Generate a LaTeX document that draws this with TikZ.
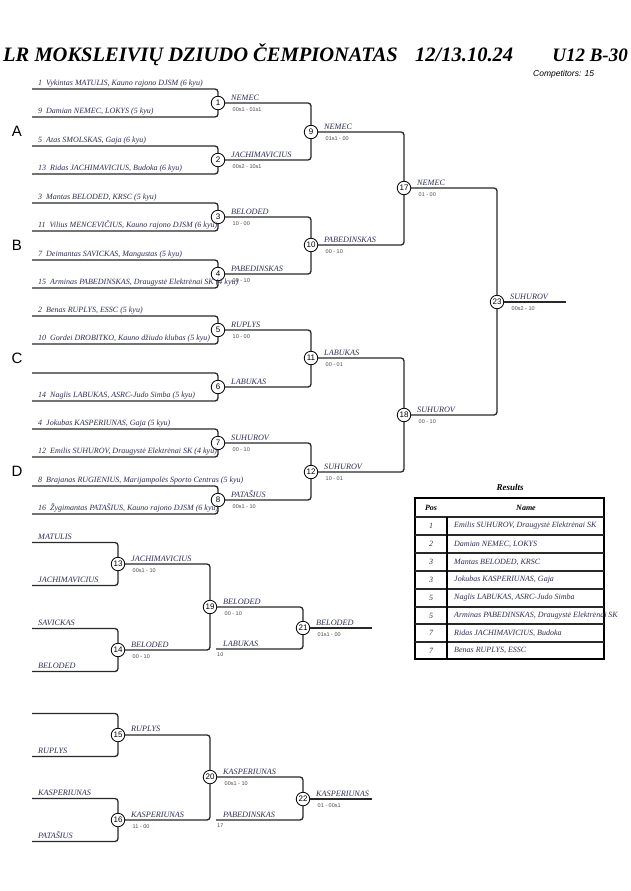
\documentclass[tikz,border=0pt]{standalone}
\usepackage{fontspec}
\setmainfont{Liberation Serif}
\newfontfamily\arl{Liberation Sans}
\definecolor{ink}{RGB}{45,45,85}
\definecolor{lncol}{RGB}{40,40,40}
\definecolor{scol}{RGB}{85,70,80}
\begin{document}
\begin{tikzpicture}[x=1pt,y=-1pt,
  ln/.style={draw=lncol,line width=1.3pt,rounded corners=3pt},
  mc/.style={circle,draw=black,fill=white,line width=0.8pt,minimum size=13.5pt,inner sep=0pt,font=\arl\fontsize{8}{8}\selectfont},
  cname/.style={anchor=base west,inner sep=0pt,text=ink,font=\itshape\fontsize{8}{8}\selectfont},
  wname/.style={anchor=base west,inner sep=0pt,text=ink,font=\itshape\fontsize{8.2}{9}\selectfont},
  score/.style={anchor=base west,inner sep=0pt,text=scol,font=\arl\fontsize{5.5}{6}\selectfont},
  pool/.style={inner sep=0pt,font=\arl\fontsize{15}{15}\selectfont},
  ttl/.style={anchor=base west,inner sep=0pt,font=\bfseries\itshape\fontsize{20.5}{22}\selectfont},
  tcell/.style={inner sep=0pt,text=ink,font=\itshape\fontsize{8}{8}\selectfont},
  thead/.style={inner sep=0pt,font=\bfseries\itshape\fontsize{8}{8}\selectfont}]
\useasboundingbox[fill=white] (0,0) rectangle (630,891);

% title
\node[ttl] (title1) at (3,62) {LR MOKSLEIVIŲ DZIUDO ČEMPIONATAS};
\node[ttl] (title2) at (415,62) {12/13.10.24};
\node[ttl,anchor=base east,font=\bfseries\itshape\fontsize{19}{22}\selectfont] (title3) at (628,62) {U12 B-30};
\node[anchor=base west,inner sep=0pt,font=\arl\itshape\fontsize{8.5}{9}\selectfont] (comp) at (533,76) {Competitors: 15};

% pools
\node[pool] (pA) at (17,131) {A};
\node[pool] (pB) at (17,245) {B};
\node[pool] (pC) at (17,358) {C};
\node[pool] (pD) at (17,471) {D};

% first round
\foreach \id/\y/\ta/\tb in {
 1/103/{1~~Vykintas MATULIS, Kauno rajono DJSM (6 kyu)}/{9~~Damian NEMEC, LOKYS (5 kyu)},
 2/160/{5~~Atas SMOLSKAS, Gaja (6 kyu)}/{13~~Ridas JACHIMAVICIUS, Budoka (6 kyu)},
 3/217/{3~~Mantas BELODED, KRSC (5 kyu)}/{11~~Vilius MENCEVIČIUS, Kauno rajono DJSM (6 kyu)},
 4/274/{7~~Deimantas SAVICKAS, Mangustas (5 kyu)}/{15~~Arminas PABEDINSKAS, Draugystė Elektrėnai SK (4 kyu)},
 5/330/{2~~Benas RUPLYS, ESSC (5 kyu)}/{10~~Gordei DROBITKO, Kauno džiudo klubas (5 kyu)},
 6/387/{}/{14~~Naglis LABUKAS, ASRC-Judo Simba (5 kyu)},
 7/443/{4~~Jokubas KASPERIUNAS, Gaja (5 kyu)}/{12~~Emilis SUHUROV, Draugystė Elektrėnai SK (4 kyu)},
 8/500/{8~~Brajanas RUGIENIUS, Marijampolės Sporto Centras (5 kyu)}/{16~~Žygimantas PATAŠIUS, Kauno rajono DJSM (6 kyu)}}{
  \node[mc] (m\id) at (218,\y) {\id};
  \coordinate (s\id a) at (32,\y-14);
  \coordinate (s\id b) at (32,\y+14);
  \draw[ln] (s\id a) -| (m\id);
  \draw[ln] (s\id b) -| (m\id);
  \node[cname] (t\id a) at (38,\y-17.5) {\ta};
  \node[cname] (t\id b) at (38,\y+10.5) {\tb};
}

% repechage first round
\foreach \id/\y/\ta/\tb in {
 13/564/{MATULIS}/{JACHIMAVICIUS},
 14/650/{SAVICKAS}/{BELODED},
 15/735/{}/{RUPLYS},
 16/820/{KASPERIUNAS}/{PATAŠIUS}}{
  \node[mc] (m\id) at (118,\y) {\id};
  \coordinate (s\id a) at (32,\y-21.5);
  \coordinate (s\id b) at (32,\y+21.5);
  \draw[ln] (s\id a) -| (m\id);
  \draw[ln] (s\id b) -| (m\id);
  \node[wname] (t\id a) at (38,\y-24.5) {\ta};
  \node[wname] (t\id b) at (38,\y+18.5) {\tb};
}

% later rounds
\node[mc] (m9) at (311,132) {9};
\node[mc] (m10) at (311,245) {10};
\node[mc] (m11) at (311,358) {11};
\node[mc] (m12) at (311,472) {12};
\node[mc] (m17) at (404,188) {17};
\node[mc] (m18) at (404,415) {18};
\node[mc] (m23) at (497,302) {23};
\node[mc] (m19) at (210,607) {19};
\node[mc] (m20) at (210,777) {20};
\node[mc] (m21) at (303,628) {21};
\node[mc] (m22) at (303,799) {22};

\foreach \a/\b in {1/9,2/9,3/10,4/10,5/11,6/11,7/12,8/12,9/17,10/17,11/18,12/18,17/23,18/23,13/19,14/19,15/20,16/20,19/21,20/22}{
  \draw[ln] (m\a) -| (m\b);
}
\coordinate (lab) at (216,649);
\coordinate (pab) at (216,820);
\draw[ln] (lab) -| (m21);
\draw[ln] (pab) -| (m22);
\coordinate (o23) at (566,302);
\coordinate (o21) at (372,628);
\coordinate (o22) at (372,799);
\draw[ln] (m23) -- (o23);
\draw[ln] (m21) -- (o21);
\draw[ln] (m22) -- (o22);

% winner labels
\foreach \id/\x/\y/\nm/\sc in {
 1/218/103/NEMEC/{00s1 - 01s1},
 2/218/160/JACHIMAVICIUS/{00s2 - 10s1},
 3/218/217/BELODED/{10 - 00},
 4/218/274/PABEDINSKAS/{00 - 10},
 5/218/330/RUPLYS/{10 - 00},
 6/218/387/LABUKAS/{},
 7/218/443/SUHUROV/{00 - 10},
 8/218/500/PATAŠIUS/{00s1 - 10},
 9/311/132/NEMEC/{01s1 - 00},
 10/311/245/PABEDINSKAS/{00 - 10},
 11/311/358/LABUKAS/{00 - 01},
 12/311/472/SUHUROV/{10 - 01},
 17/404/188/NEMEC/{01 - 00},
 18/404/415/SUHUROV/{00 - 10},
 23/497/302/SUHUROV/{00s2 - 10},
 13/118/564/JACHIMAVICIUS/{00s1 - 10},
 14/118/650/BELODED/{00 - 10},
 19/210/607/BELODED/{00 - 10},
 21/303/628/BELODED/{01s1 - 00},
 15/118/734/RUPLYS/{},
 16/118/820/KASPERIUNAS/{11 - 00},
 20/210/777/KASPERIUNAS/{00s1 - 10},
 22/303/799/KASPERIUNAS/{01 - 00s1}}{
  \node[wname] (w\id) at (\x+13,\y-3) {\nm};
  \node[score] (c\id) at (\x+14.5,\y+8.5) {\sc};
}
\node[wname] (wlab) at (223,646.5) {LABUKAS};
\node[score] (clab) at (217,656) {10};
\node[wname] (wpab) at (223,817.5) {PABEDINSKAS};
\node[score] (cpab) at (217,827) {17};

% results table
\node[inner sep=0pt,font=\bfseries\itshape\fontsize{9}{9}\selectfont] (rtitle) at (510,487) {Results};
\draw[line width=1.6pt] (415,498) rectangle (604,659);
\foreach \y in {517,535,553,571,589,607,624,642}{
  \draw[line width=1.1pt,draw=lncol] (415,\y) -- (604,\y);
}
\draw[line width=1.1pt] (447,517) -- (447,659);
\node[thead] (hpos) at (431,508) {Pos};
\node[thead] (hname) at (526,508) {Name};
\foreach \i/\y/\p/\nm in {
 1/526/1/{Emilis SUHUROV, Draugystė Elektrėnai SK},
 2/544/2/{Damian NEMEC, LOKYS},
 3/562/3/{Mantas BELODED, KRSC},
 4/580/3/{Jokubas KASPERIUNAS, Gaja},
 5/598/5/{Naglis LABUKAS, ASRC-Judo Simba},
 6/615.5/5/{Arminas PABEDINSKAS, Draugystė Elektrėnai SK},
 7/633/7/{Ridas JACHIMAVICIUS, Budoka},
 8/650.5/7/{Benas RUPLYS, ESSC}}{
  \node[tcell] (rp\i) at (431,\y) {\p};
  \node[tcell,anchor=west] (rn\i) at (454,\y) {\nm};
}
\end{tikzpicture}
\end{document}
